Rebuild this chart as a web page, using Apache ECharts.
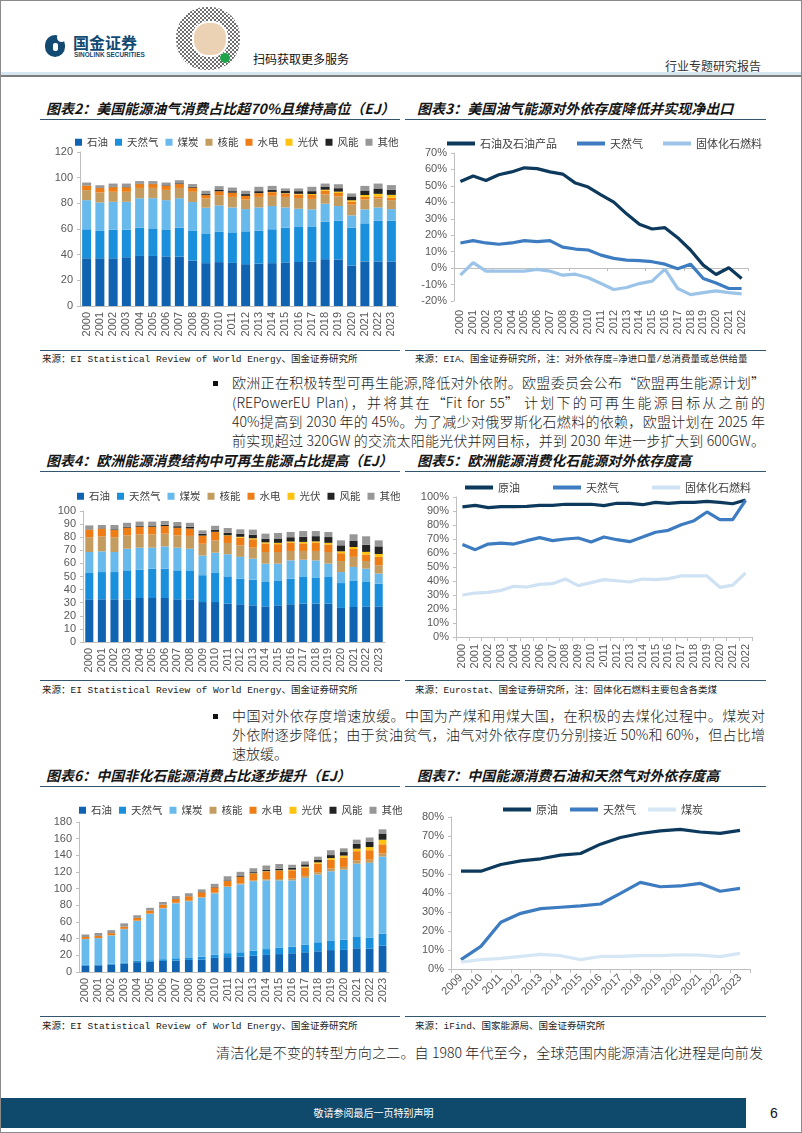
<!DOCTYPE html>
<html><head><meta charset="utf-8">
<script src="https://cdn.jsdelivr.net/npm/echarts@6/dist/echarts.min.js"></script>
<style>
html,body{margin:0;padding:0;background:#fff;}
#page{position:relative;width:802px;height:1133px;overflow:hidden;background:#fff;font-family:"Noto Sans CJK SC",sans-serif;}
.frame{position:absolute;left:0;top:0;width:800px;height:1131px;border:1px solid #8a8a8a;pointer-events:none;}
.ttl{position:absolute;font-size:14px;font-weight:bold;font-style:italic;color:#151515;white-space:nowrap;line-height:16px;}
.rule{position:absolute;height:1px;background:#33566f;}
.src{position:absolute;font-size:9.5px;font-family:"Liberation Mono","Noto Sans CJK SC",monospace;color:#222;white-space:nowrap;line-height:12px;}
.pl{position:absolute;font-size:14px;font-weight:300;color:#1a1a1a;white-space:nowrap;line-height:19px;}
.j{text-align:justify;text-align-last:justify;}
.chart{position:absolute;}
.bul{position:absolute;width:5px;height:5px;background:#111;}
</style></head>
<body><div id="page">
<!-- header -->
<div style="position:absolute;left:45px;top:35px;width:20px;height:22px;border-radius:11px;background:#124a72;"></div>
<div style="position:absolute;left:57px;top:33px;width:9px;height:9px;border-radius:5px;background:#fff;"></div>
<div style="position:absolute;left:53px;top:43px;width:5px;height:8px;background:#fff;border-radius:2px;"></div>
<div style="position:absolute;left:73px;top:33px;font-size:16px;font-weight:bold;color:#124a72;line-height:18px;">国金证券</div>
<div style="position:absolute;left:74px;top:51px;font-size:6.4px;font-weight:bold;color:#124a72;font-family:'Liberation Sans',Arial;line-height:8px;">SINOLINK SECURITIES</div>
<div style="position:absolute;left:176px;top:7px;width:64px;height:63px;background:repeating-conic-gradient(#333 0 25%,#fff 0 50%) 0 0/4px 4px;border-radius:30px;opacity:0.7;"></div>
<div style="position:absolute;left:192px;top:21px;width:32px;height:32px;border-radius:16px;background:#ecd2b4;border:2px solid #fff;"></div>
<div style="position:absolute;left:220px;top:53px;width:10px;height:10px;border-radius:5px;background:#21a34a;"></div>
<div style="position:absolute;left:253px;top:51px;font-size:12px;color:#111;line-height:16px;">扫码获取更多服务</div>
<div style="position:absolute;left:665px;top:58px;font-size:12px;color:#333;line-height:16px;">行业专题研究报告</div>
<div style="position:absolute;left:1px;top:72px;width:800px;height:3px;background:#d6e6f1;"></div>
<div style="position:absolute;left:1px;top:75px;width:800px;height:2px;background:#7c7c7c;"></div>

<!-- Chart 2 / 3 -->
<div class="ttl" style="left:46px;top:100px;">图表2：美国能源油气消费占比超70%且维持高位（EJ）</div>
<div class="rule" style="left:40px;top:119px;width:360px;"></div>
<div class="ttl" style="left:417px;top:100px;">图表3：美国油气能源对外依存度降低并实现净出口</div>
<div class="rule" style="left:405px;top:119px;width:361px;"></div>
<div id="c2" class="chart" style="left:40px;top:122px;width:362px;height:226px;"></div>
<div id="c3" class="chart" style="left:405px;top:122px;width:362px;height:226px;"></div>
<div class="rule" style="left:40px;top:350px;width:360px;"></div>
<div class="rule" style="left:405px;top:350px;width:361px;"></div>
<div class="src" style="left:42px;top:354px;">来源：EI Statistical Review of World Energy、国金证券研究所</div>
<div class="src" style="left:415px;top:354px;">来源：EIA、国金证券研究所，注：对外依存度=净进口量/总消费量或总供给量</div>

<!-- paragraph 1 -->
<div class="bul" style="left:213px;top:381px;"></div>
<div class="pl j" style="left:232px;top:373px;width:533px;">欧洲正在积极转型可再生能源,降低对外依附。欧盟委员会公布“欧盟再生能源计划”</div>
<div class="pl j" style="left:232px;top:393px;width:533px;">(REPowerEU Plan)，并将其在“Fit for 55” 计划下的可再生能源目标从之前的</div>
<div class="pl j" style="left:232px;top:412px;width:533px;">40%提高到 2030 年的 45%。为了减少对俄罗斯化石燃料的依赖，欧盟计划在 2025 年</div>
<div class="pl j" style="left:232px;top:431px;width:533px;">前实现超过 320GW 的交流太阳能光伏并网目标，并到 2030 年进一步扩大到 600GW。</div>

<!-- Chart 4 / 5 -->
<div class="ttl" style="left:46px;top:452px;">图表4：欧洲能源消费结构中可再生能源占比提高（EJ）</div>
<div class="rule" style="left:40px;top:471px;width:360px;"></div>
<div class="ttl" style="left:417px;top:452px;">图表5：欧洲能源消费化石能源对外依存度高</div>
<div class="rule" style="left:405px;top:471px;width:361px;"></div>
<div id="c4" class="chart" style="left:40px;top:474px;width:362px;height:204px;"></div>
<div id="c5" class="chart" style="left:405px;top:474px;width:362px;height:204px;"></div>
<div class="rule" style="left:40px;top:680px;width:360px;"></div>
<div class="rule" style="left:405px;top:680px;width:361px;"></div>
<div class="src" style="left:42px;top:685px;">来源：EI Statistical Review of World Energy、国金证券研究所</div>
<div class="src" style="left:415px;top:685px;">来源：Eurostat、国金证券研究所，注：固体化石燃料主要包含各类煤</div>

<!-- paragraph 2 -->
<div class="bul" style="left:213px;top:714px;"></div>
<div class="pl j" style="left:232px;top:706px;width:533px;">中国对外依存度增速放缓。中国为产煤和用煤大国，在积极的去煤化过程中。煤炭对</div>
<div class="pl j" style="left:232px;top:725px;width:533px;">外依附逐步降低；由于贫油贫气，油气对外依存度仍分别接近 50%和 60%，但占比增</div>
<div class="pl" style="left:232px;top:744px;">速放缓。</div>

<!-- Chart 6 / 7 -->
<div class="ttl" style="left:46px;top:767px;">图表6：中国非化石能源消费占比逐步提升（EJ）</div>
<div class="rule" style="left:40px;top:786px;width:360px;"></div>
<div class="ttl" style="left:417px;top:767px;">图表7：中国能源消费石油和天然气对外依存度高</div>
<div class="rule" style="left:405px;top:786px;width:361px;"></div>
<div id="c6" class="chart" style="left:40px;top:789px;width:362px;height:226px;"></div>
<div id="c7" class="chart" style="left:405px;top:789px;width:362px;height:226px;"></div>
<div class="rule" style="left:40px;top:1016px;width:360px;"></div>
<div class="rule" style="left:405px;top:1016px;width:361px;"></div>
<div class="src" style="left:42px;top:1021px;">来源：EI Statistical Review of World Energy、国金证券研究所</div>
<div class="src" style="left:415px;top:1021px;">来源：iFind、国家能源局、国金证券研究所</div>

<!-- paragraph 3 -->
<div class="pl j" style="left:216px;top:1043px;width:547px;">清洁化是不变的转型方向之二。自 1980 年代至今，全球范围内能源清洁化进程是向前发</div>

<!-- footer -->
<div style="position:absolute;left:1px;top:1098px;width:745px;height:30px;background:#0f4a6c;"></div>
<div style="position:absolute;left:1px;top:1098px;width:745px;height:30px;line-height:30px;text-align:center;color:#fff;font-size:10px;">敬请参阅最后一页特别声明</div>
<div style="position:absolute;left:770px;top:1104px;font-size:14px;color:#111;font-family:'Liberation Sans',Arial;line-height:18px;">6</div>
<div class="frame"></div>
</div>
<script>
// ---------- data ----------
const years00_23 = ['2000','2001','2002','2003','2004','2005','2006','2007','2008','2009','2010','2011','2012','2013','2014','2015','2016','2017','2018','2019','2020','2021','2022','2023'];
const years00_22 = ['2000','2001','2002','2003','2004','2005','2006','2007','2008','2009','2010','2011','2012','2013','2014','2015','2016','2017','2018','2019','2020','2021','2022'];
const years09_23 = ['2009','2010','2011','2012','2013','2014','2015','2016','2017','2018','2019','2020','2021','2022','2023'];
const fuelNames = ['石油','天然气','煤炭','核能','水电','光伏','风能','其他'];

// Chart 2: US energy consumption (EJ)
const usOil   = [37.2,37.2,37.2,38.0,39.0,39.0,38.7,38.5,35.4,33.4,34.2,33.6,32.6,33.0,33.4,34.0,34.3,34.6,36.5,36.3,31.6,34.7,34.7,34.7];
const usGas   = [22.6,21.3,22.3,21.5,22.0,21.5,21.0,22.5,23.1,23.2,23.8,23.8,25.6,25.7,26.4,27.0,27.3,27.0,29.2,30.2,29.4,29.7,31.8,31.8];
const usCoal  = [22.7,22.2,21.7,21.7,23.0,23.5,22.8,23.0,22.5,20.0,20.4,19.4,17.3,18.1,18.1,15.8,14.2,13.7,14.0,11.4,9.6,10.9,10.3,9.0];
const usNuc   = [7.8,7.8,7.8,7.8,8.0,8.0,8.0,8.0,8.0,7.2,8.0,8.2,7.5,8.2,8.0,8.2,8.3,8.2,7.3,7.6,8.4,7.7,7.0,7.0];
const usHydro = [3.6,3.4,3.6,3.5,3.0,3.0,3.2,3.0,3.2,2.6,3.0,3.3,2.7,2.8,2.8,2.6,2.8,3.0,2.8,2.6,2.2,2.0,1.6,1.8];
const usSolar = [0,0,0,0,0,0,0,0,0,0,0,0,0.1,0.1,0.2,0.3,0.5,0.7,0.8,1.0,1.2,1.5,2.0,2.3];
const usWind  = [0.1,0.1,0.2,0.2,0.3,0.3,0.4,0.6,0.7,0.8,1.0,1.2,1.4,1.6,1.7,1.8,2.1,2.3,2.5,2.7,3.0,3.5,4.2,3.9];
const usOther = [2.2,2.1,2.6,2.7,2.0,2.0,2.1,2.4,2.1,2.6,3.0,2.8,2.6,3.4,3.0,1.9,2.1,3.4,2.3,3.1,2.3,3.6,3.8,3.7];

// Chart 3: US import dependence (%)
const usOilDep  = [52.7,56.0,53.3,56.8,58.5,61.0,60.5,58.5,57.2,51.7,49.3,44.6,40.1,33.0,26.7,23.8,24.6,18.5,11.0,1.8,-3.9,0.2,-6.3];
const usGasDep  = [15.3,16.7,15.3,14.5,15.3,16.7,16.1,16.7,12.8,11.6,11.0,7.9,5.9,4.9,4.5,3.9,2.4,-0.4,2.4,-6.3,-9.0,-12.4,-12.4];
const usCoalDep = [-4.3,3.3,-1.8,-1.8,-1.8,-1.8,-0.8,-1.8,-4.3,-3.7,-5.9,-9.4,-13.0,-11.8,-9.4,-7.9,-0.6,-12.4,-16.1,-14.9,-13.8,-14.9,-15.7];

// Chart 4: Europe energy consumption (EJ)
const euOil   = [32.6,32.6,32.6,32.6,33.6,33.6,33.6,32.6,32.6,30.5,30.5,29.3,28.8,28.0,27.2,28.0,28.8,29.3,29.3,29.3,26.0,26.7,27.2,27.2];
const euGas   = [20.1,20.8,20.8,22.1,21.6,22.4,22.4,22.1,22.1,20.5,22.2,20.8,19.5,19.6,18.6,18.6,19.5,20.3,19.6,20.3,19.0,20.3,18.6,17.3];
const euCoal  = [16.0,15.8,15.3,16.5,16.8,16.0,17.0,17.3,16.5,15.0,15.5,16.9,16.7,16.0,14.0,13.2,14.0,13.2,13.4,10.2,8.4,10.3,10.2,7.7];
const euNuc   = [11.3,11.5,11.3,10.2,10.2,10.2,9.7,9.4,9.8,9.0,9.4,8.6,8.8,8.4,8.9,8.9,7.2,6.7,7.2,8.9,8.4,7.7,5.8,6.3];
const euHydro = [5.8,5.8,5.5,5.9,5.8,5.8,5.8,5.7,5.5,6.0,6.4,5.3,5.8,6.4,6.5,6.0,6.2,5.8,6.2,5.8,6.0,6.0,5.0,6.5];
const euSolar = [0,0,0,0,0,0,0,0.1,0.1,0.2,0.1,0.5,0.7,0.8,0.9,1.0,1.0,1.1,1.1,1.2,1.4,1.5,2.0,2.2];
const euWind  = [0.2,0.3,0.5,0.6,0.8,0.9,1.0,1.2,1.3,1.5,1.7,2.0,2.3,2.6,2.8,3.3,3.3,4.0,4.0,4.4,4.6,4.6,5.4,5.8];
const euOther = [3.0,2.5,3.3,3.1,3.1,3.0,2.9,3.2,3.1,2.5,2.9,3.6,3.4,4.0,3.8,4.2,4.0,4.3,3.9,3.9,3.8,5.1,6.5,4.6];

// Chart 5: Europe import dependence (%)
const euCrudeDep = [92.9,94.0,92.4,93.1,93.1,93.3,94.0,94.0,94.8,94.8,94.8,93.8,95.5,95.5,94.5,96.2,95.5,96.2,96.2,96.9,96.2,95.2,97.9];
const euGasDep   = [66.0,62.4,66.4,67.1,66.4,68.8,71.0,68.8,70.0,70.7,67.9,71.4,69.5,68.1,71.4,74.8,76.2,80.2,83.1,89.3,83.8,83.8,97.6];
const euSolidDep = [30.0,31.4,31.9,33.3,36.2,35.7,37.6,38.1,41.4,36.7,38.8,41.0,40.2,39.3,41.4,41.0,41.7,43.6,43.6,43.6,35.5,37.1,45.7];

// Chart 6: China energy consumption (EJ)
const cnOil   = [7.5,8.0,8.7,10.0,11.8,12.3,13.3,13.8,14.5,15.0,17.0,17.8,18.5,19.5,20.5,21.5,22.5,23.7,24.8,26.3,26.5,28.5,28.0,31.5];
const cnGas   = [1.0,1.1,1.2,1.4,1.6,1.8,2.1,2.7,3.0,3.3,3.9,4.8,5.2,6.0,7.0,7.5,8.0,9.3,10.9,11.6,12.3,13.5,13.0,14.5];
const cnCoal  = [31.0,31.5,34.0,40.0,47.8,55.6,61.0,66.0,67.5,71.0,73.5,79.5,81.5,83.5,82.5,81.0,79.5,80.0,81.3,83.0,84.0,88.0,90.0,92.5];
const cnNuc   = [0.2,0.2,0.2,0.4,0.5,0.5,0.5,0.6,0.6,0.7,0.7,0.8,0.9,1.0,1.2,1.6,2.0,2.3,2.7,3.1,3.3,3.7,3.8,4.0];
const cnHydro = [2.3,2.5,2.6,2.6,3.2,3.6,3.9,4.4,5.3,5.6,6.5,6.3,8.1,8.3,9.5,10.0,10.1,10.1,10.3,10.7,11.3,11.3,11.3,10.7];
const cnSolar = [0,0,0,0,0,0,0,0,0,0,0,0,0.1,0.2,0.3,0.4,0.7,1.1,1.6,2.0,2.3,3.0,3.8,5.5];
const cnWind  = [0,0,0,0,0,0,0,0.1,0.1,0.3,0.5,0.7,0.9,1.3,1.5,1.7,2.2,2.7,3.3,3.6,4.2,5.8,6.5,7.5];
const cnOther = [3.0,3.5,3.5,4.0,3.2,3.2,3.2,3.5,3.5,3.3,3.7,5.0,5.0,4.7,5.3,5.9,3.7,3.5,3.5,5.8,4.5,5.0,5.0,5.0];

// Chart 7: China import dependence (%)
const cnCrudeDep = [51.5,51.5,55.0,56.9,58.0,59.9,60.8,65.7,69.2,71.3,72.7,73.5,72.1,71.4,73.0];
const cnGasDep   = [4.9,11.9,24.6,29.3,31.8,32.5,33.2,34.2,39.8,45.6,43.3,43.7,45.1,40.9,42.4];
const cnCoalDep  = [3.7,4.9,5.6,6.6,7.7,7.0,4.9,6.6,6.6,7.0,7.0,7.5,7.3,6.5,8.2];

// ---------- styles ----------
const fuelColors = ['#0f63b0','#1a90dc','#68b9ec','#c49c60','#ee7d16','#ffc30f','#232323','#979797'];
const axisGray = '#bfbfbf';
const lblStyle = {color:'#595959', fontSize:11, fontFamily:'Liberation Sans, Arial, sans-serif'};
const legText = {fontSize:11, color:'#404040', fontFamily:'Noto Sans CJK SC, sans-serif'};
const barLegText = {fontSize:10.5, color:'#404040', fontFamily:'Noto Sans CJK SC, sans-serif'};

function barChart(id, cats, arrs, yMax, yInt, grid, legendLeft, legendTop, barW){
  const c = echarts.init(document.getElementById(id));
  c.setOption({
    animation:false,
    color: fuelColors,
    legend:{top:legendTop, left:legendLeft, width:420, icon:'rect', itemWidth:7, itemHeight:7, itemGap:7, textStyle:barLegText, data:fuelNames},
    grid: grid,
    xAxis:{type:'category', data:cats, boundaryGap:true,
      axisLine:{lineStyle:{color:axisGray}}, axisTick:{show:false},
      axisLabel:Object.assign({rotate:90, interval:0, margin:6}, lblStyle)},
    yAxis:{type:'value', min:0, max:yMax, interval:yInt, splitLine:{show:false},
      axisLine:{show:true, lineStyle:{color:axisGray}}, axisTick:{show:true, length:3, lineStyle:{color:axisGray}},
      axisLabel:Object.assign({margin:7}, lblStyle)},
    series: arrs.map((a,i)=>({name:fuelNames[i], type:'bar', stack:'t', data:a, barWidth:barW,
      itemStyle:{color:fuelColors[i]}}))
  });
}

function lineChart(id, cats, names, arrs, colors, yMin, yMax, yInt, grid, legend, rot, zeroAxis){
  const c = echarts.init(document.getElementById(id));
  const xa = [];
  if (zeroAxis){
    xa.push({type:'category', data:cats, boundaryGap:true, position:'bottom',
      axisLine:{onZero:true, lineStyle:{color:axisGray}}, axisTick:{show:true, length:3, lineStyle:{color:axisGray}},
      axisLabel:{show:false}});
    xa.push({type:'category', data:cats, boundaryGap:true, position:'bottom',
      axisLine:{show:false, onZero:false}, axisTick:{show:false},
      axisLabel:Object.assign({rotate:rot, interval:0, margin:9}, lblStyle)});
  } else {
    xa.push({type:'category', data:cats, boundaryGap:true,
      axisLine:{lineStyle:{color:axisGray}}, axisTick:{show:true, length:4, lineStyle:{color:axisGray}},
      axisLabel:Object.assign({rotate:rot, interval:0, margin:7}, lblStyle)});
  }
  c.setOption({
    animation:false,
    legend:Object.assign({icon:'rect', itemWidth:28, itemHeight:4, width:420, textStyle:legText, data:names}, legend),
    grid:grid,
    xAxis:xa,
    yAxis:{type:'value', min:yMin, max:yMax, interval:yInt, splitLine:{show:false},
      axisLine:{show:true, lineStyle:{color:axisGray}}, axisTick:{show:true, length:3, lineStyle:{color:axisGray}},
      axisLabel:Object.assign({margin:7, formatter:'{value}%'}, lblStyle)},
    series: arrs.map((a,i)=>({name:names[i], type:'line', xAxisIndex:0, data:a, showSymbol:false, symbol:'none',
      lineStyle:{width:3.2, color:colors[i]}, itemStyle:{color:colors[i]}}))
  });
}

barChart('c2', years00_23, [usOil,usGas,usCoal,usNuc,usHydro,usSolar,usWind,usOther], 120, 20,
  {left:40, right:4, top:30, bottom:42}, 30, 10, '68%');
barChart('c4', years00_23, [euOil,euGas,euCoal,euNuc,euHydro,euSolar,euWind,euOther], 100, 10,
  {left:43, right:17, top:37, bottom:36}, 32, 12, '64%');
barChart('c6', years00_23, [cnOil,cnGas,cnCoal,cnNuc,cnHydro,cnSolar,cnWind,cnOther], 180, 20,
  {left:39, right:13, top:33, bottom:43}, 34, 11, '60%');

lineChart('c3', years00_22, ['石油及石油产品','天然气','固体化石燃料'], [usOilDep,usGasDep,usCoalDep],
  ['#0d3a5c','#3d7cc0','#9cc4e8'], -20, 70, 10, {left:49, right:19, top:31, bottom:47},
  {left:37, top:11, itemGap:20}, 90, true);
lineChart('c5', years00_22, ['原油','天然气','固体化石燃料'], [euCrudeDep,euGasDep,euSolidDep],
  ['#0d3a5c','#3d7cc0','#cfe2f3'], 0, 100, 10, {left:51, right:15, top:23, bottom:41},
  {left:55, top:3, itemGap:33}, 90, false);
lineChart('c7', years09_23, ['原油','天然气','煤炭'], [cnCrudeDep,cnGasDep,cnCoalDep],
  ['#0d3a5c','#3d7cc0','#d5e6f5'], 0, 80, 10, {left:46, right:17, top:28, bottom:46},
  {left:93, top:10, itemGap:12}, 45, false);
</script>
</body></html>
